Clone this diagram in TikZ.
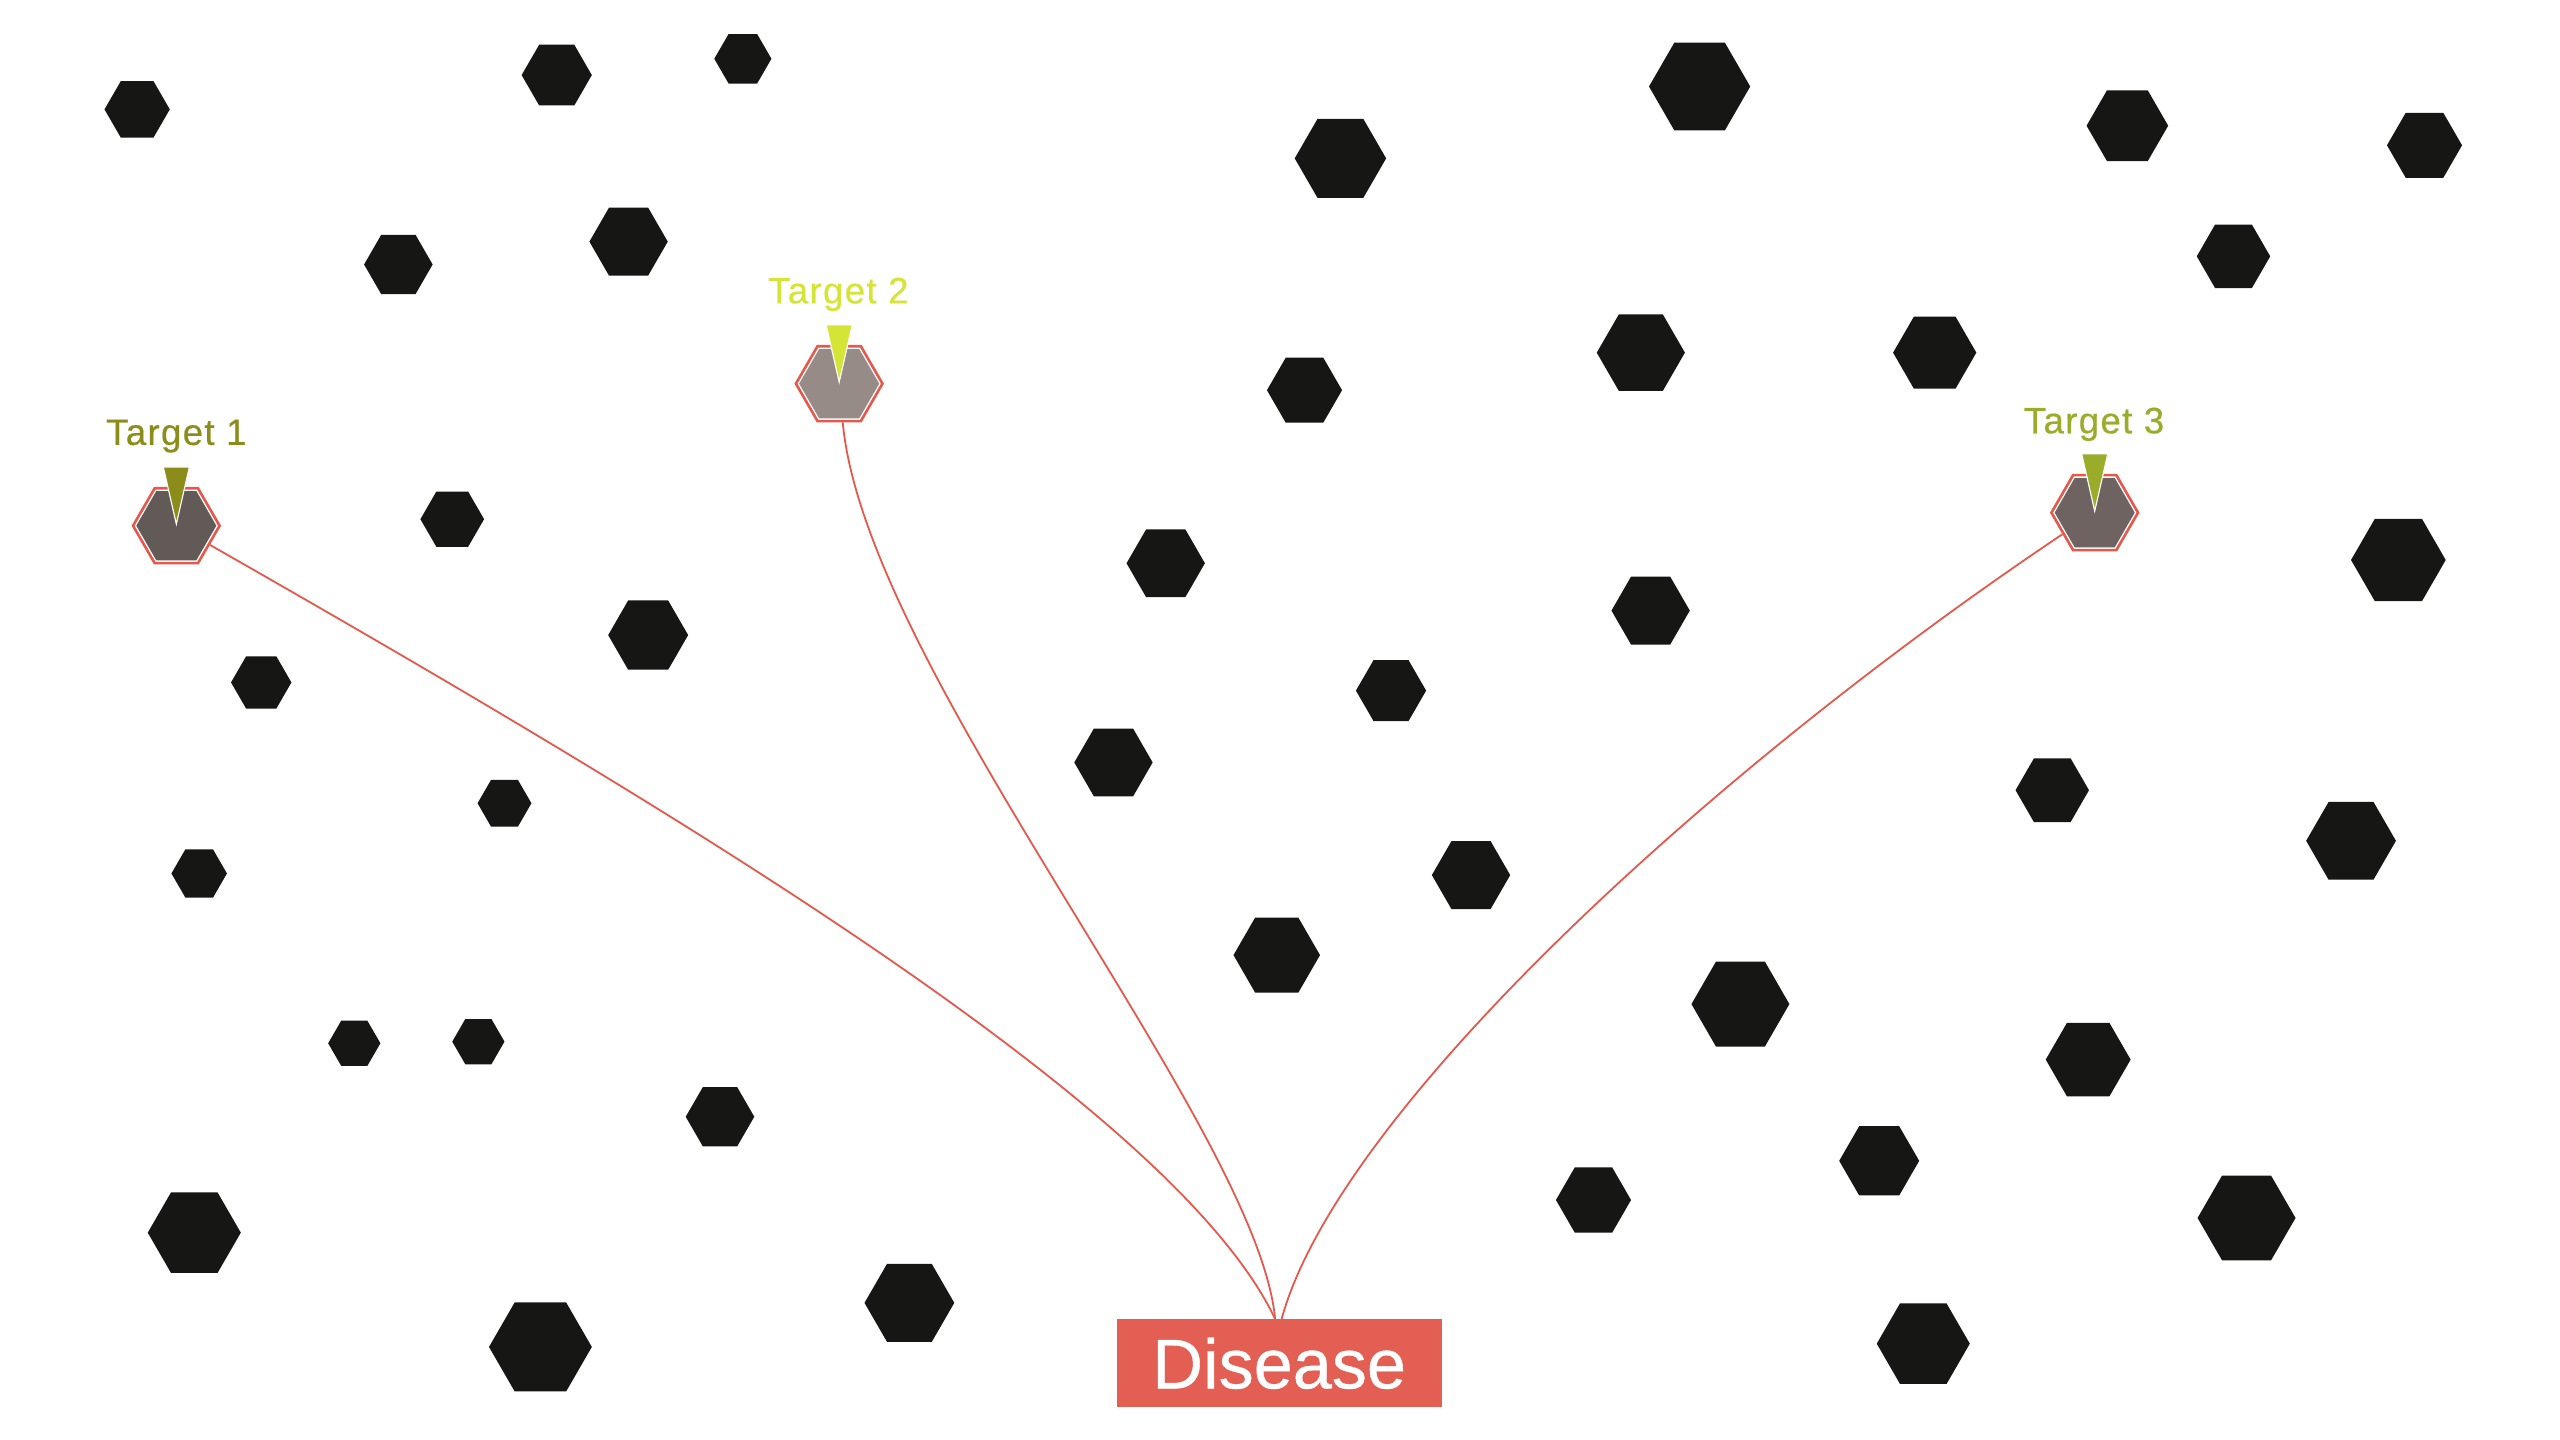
\documentclass[tikz,border=0pt]{standalone}
\usepackage{fontspec}
\setmainfont{Liberation Sans}
\newfontfamily\labfont[FakeBold=0.5,LetterSpace=3.5]{Liberation Sans}
\newfontfamily\disfont[FakeBold=0.5]{Liberation Sans}
\usetikzlibrary{shapes.geometric}
\definecolor{hexblack}{HTML}{161614}
\definecolor{linkred}{HTML}{E5584C}
\definecolor{boxred}{HTML}{E45F53}
\definecolor{tcolA}{RGB}{140,140,26}
\definecolor{tcolB}{RGB}{212,229,55}
\definecolor{tcolC}{RGB}{155,172,42}
\definecolor{fillA}{HTML}{625A57}
\definecolor{fillB}{HTML}{978B87}
\definecolor{fillC}{HTML}{6E6361}
\begin{document}
\begin{tikzpicture}[x=1pt,y=-1pt,
  targethex/.style={shape=regular polygon, regular polygon sides=6, minimum size=53pt, inner sep=0pt, draw=linkred, line width=1.6pt, fill=white},
  link/.style={draw=linkred, line width=1.1pt},
  tlabel/.style={font=\labfont\fontsize{22.5}{27}\selectfont, anchor=base, inner sep=0pt},
  marker/.style={draw=white, line width=0.7pt},
  hexfill/.style={fill=hexblack}
]
\useasboundingbox (0,0) rectangle (1568,882);
\fill[white] (0,0) rectangle (1568,882);

% background hexagons
\foreach \x/\y/\r in {84/67/20, 341/46/21.5, 455/36/17.5, 244/162/21, 385/148/24, 821/97/28,
  1041/53/31, 1303/77/25, 1485/89/23, 1368/157/22.5, 1005/216/27, 1185/216/25.5, 799/239/23,
  277/318/19.5, 714/345/24, 1011/374/24, 1469/343/29, 397/389/24.5, 160/418/18.5, 852/423/21.5,
  682/467/24, 309/492/16.5, 122/535/17, 1257/484/22.5, 1440/515/27.5, 901/536/24, 782/585/26.5,
  1066/615/30, 1279/649/26, 217/639/16, 293/638/16, 441/684/21, 976/735/23, 1151/711/24.5,
  1376/746/30, 119/755/28.5, 557/798/27.5, 331/825/31.5, 1178/823/28.5}
  \fill[hexfill] (\x,\y) +(0:\r) -- +(60:\r) -- +(120:\r) -- +(180:\r) -- +(240:\r) -- +(300:\r) -- cycle;

% targets
\node[targethex] (t1) at (108,322) {};
\node[targethex] (t2) at (514,235) {};
\node[targethex] (t3) at (1283,314) {};
\fill[fillA] (t1.center) +(0:24.5) -- +(60:24.5) -- +(120:24.5) -- +(180:24.5) -- +(240:24.5) -- +(300:24.5) -- cycle;
\fill[fillB] (t2.center) +(0:24.5) -- +(60:24.5) -- +(120:24.5) -- +(180:24.5) -- +(240:24.5) -- +(300:24.5) -- cycle;
\fill[fillC] (t3.center) +(0:24.5) -- +(60:24.5) -- +(120:24.5) -- +(180:24.5) -- +(240:24.5) -- +(300:24.5) -- cycle;

\filldraw[marker, fill=tcolA] ([shift={(-8,-36)}]t1.center) -- ([shift={(8,-36)}]t1.center) -- ([shift={(0,-1)}]t1.center) -- cycle;
\filldraw[marker, fill=tcolB] ([shift={(-8,-36)}]t2.center) -- ([shift={(8,-36)}]t2.center) -- ([shift={(0,-1)}]t2.center) -- cycle;
\filldraw[marker, fill=tcolC] ([shift={(-8,-36)}]t3.center) -- ([shift={(8,-36)}]t3.center) -- ([shift={(0,-1)}]t3.center) -- cycle;

\node[tlabel, text=tcolA] (l1) at (108,272.5) {Target 1};
\node[tlabel, text=tcolB] (l2) at (513.5,185.8) {Target 2};
\node[tlabel, text=tcolC] (l3) at (1282.6,265.4) {Target 3};

% disease
\node[fill=boxred, text=white, minimum width=199pt, minimum height=54pt, inner sep=0pt,
      font=\disfont\fontsize{43}{50}\selectfont] (dis) at (783.5,835) {Disease};

% links
\draw[link] (t1) .. controls (420,500) and (720,680) .. ([xshift=-2.5pt]dis.north);
\draw[link] (t2) .. controls (530,410) and (770,690) .. ([xshift=-2.5pt]dis.north);
\draw[link] (t3) .. controls (1050,470) and (820,680) .. ([xshift=1.5pt]dis.north);
\end{tikzpicture}
\end{document}
